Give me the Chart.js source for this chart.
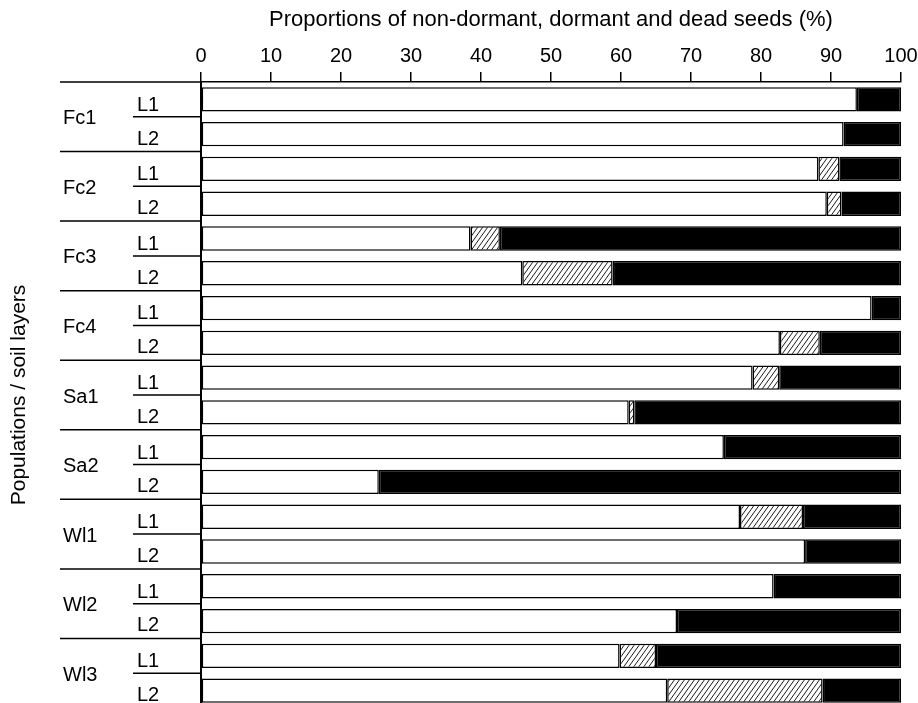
<!DOCTYPE html>
<html>
<head>
<meta charset="utf-8">
<script src="https://cdn.jsdelivr.net/npm/chart.js@4"></script>
<style>
  html, body { margin: 0; padding: 0; background: #fff; overflow: hidden; }
  #chart { display: block; }
</style>
</head>
<body>
<canvas id="chart" width="918" height="710"></canvas>
<script>
// Populations and the two soil layers sampled in each
const populations = ['Fc1', 'Fc2', 'Fc3', 'Fc4', 'Sa1', 'Sa2', 'Wl1', 'Wl2', 'Wl3'];
const layers = ['L1', 'L2'];

// Percentages per row (population x layer, L1 then L2)
const nonDormant = [93.7, 91.8, 88.2, 89.4, 38.5, 45.9, 95.8, 82.7, 78.8, 61.1, 74.7, 25.4, 77.0, 86.3, 81.8, 68.0, 59.8, 66.6];
const dormant    = [0,    0,    3.0,  2.1,  4.2,  12.9, 0,    5.7,  3.8,  0.8,  0,    0,    9.0,  0,    0,    0,    5.2,  22.2];
const dead       = [6.3,  8.2,  8.8,  8.5,  57.3, 41.2, 4.2,  11.6, 17.4, 38.1, 25.3, 74.6, 14.0, 13.7, 18.2, 32.0, 35.0, 11.2];

const xTicks = [0, 10, 20, 30, 40, 50, 60, 70, 80, 90, 100];

const FONT = '"Liberation Sans", Arial, Helvetica, sans-serif';

const rowLabels = [];
populations.forEach(p => layers.forEach(l => rowLabels.push(p + ' ' + l)));

// diagonal hatch for the dormant share
function makeHatch() {
    const w = 5, h = 7;
    const c = document.createElement('canvas');
    c.width = w; c.height = h;
    const g = c.getContext('2d');
    g.fillStyle = '#fff';
    g.fillRect(0, 0, w, h);
    g.strokeStyle = '#000';
    g.lineWidth = 0.9;
    g.beginPath();
    for (let k = -1; k <= 1; k++) {
        g.moveTo(k * w, h);
        g.lineTo(k * w + w, 0);
    }
    g.stroke();
    return g.createPattern(c, 'repeat');
}

// group labels, separator lines and rotated axis title on the left
const leftLabels = {
    id: 'leftLabels',
    afterDraw(chart) {
        const ctx = chart.ctx;
        const y = chart.scales.y;
        const area = chart.chartArea;
        const half = (y.getPixelForValue(1) - y.getPixelForValue(0)) / 2;
        ctx.save();
        ctx.strokeStyle = '#000';
        ctx.lineWidth = 1.5;
        ctx.fillStyle = '#000';
        ctx.font = '20px ' + FONT;
        populations.forEach((p, g) => {
            const r1 = g * 2, r2 = g * 2 + 1;
            const groupTop = y.getPixelForValue(r1) - half;
            const mid = y.getPixelForValue(r1) + half;
            ctx.beginPath();
            ctx.moveTo(60, groupTop);
            ctx.lineTo(area.left, groupTop);
            ctx.moveTo(133, mid);
            ctx.lineTo(area.left, mid);
            ctx.stroke();

            ctx.textAlign = 'left';
            ctx.textBaseline = 'middle';
            ctx.fillText(p, 63, mid + 2);

            ctx.textBaseline = 'alphabetic';
            ctx.fillText(layers[0], 137, mid - 6);
            ctx.fillText(layers[1], 137, y.getPixelForValue(r2) + half - 7);
        });

        ctx.font = '21px ' + FONT;
        ctx.translate(19, (area.top + area.bottom) / 2);
        ctx.rotate(-Math.PI / 2);
        ctx.textAlign = 'center';
        ctx.textBaseline = 'middle';
        ctx.fillText('Populations / soil layers', 0, 0);
        ctx.restore();
    }
};

const barStyle = {
    borderColor: '#000',
    borderWidth: 1.5,
    borderSkipped: false,
    barPercentage: 0.7,
    categoryPercentage: 1
};

new Chart(document.getElementById('chart'), {
    type: 'bar',
    data: {
        labels: rowLabels,
        datasets: [
            Object.assign({ label: 'Non-dormant', data: nonDormant, backgroundColor: '#fff' }, barStyle),
            Object.assign({ label: 'Dormant', data: dormant, backgroundColor: makeHatch() }, barStyle),
            Object.assign({ label: 'Dead', data: dead, backgroundColor: '#000' }, barStyle)
        ]
    },
    options: {
        indexAxis: 'y',
        responsive: false,
        animation: false,
        devicePixelRatio: 1,
        layout: { padding: { left: 0, right: 17, top: 0, bottom: 2 } },
        plugins: {
            legend: { display: false },
            tooltip: { enabled: false }
        },
        scales: {
            x: {
                position: 'top',
                stacked: true,
                min: 0,
                max: 100,
                afterBuildTicks(scale) {
                    scale.ticks = xTicks.map(v => ({ value: v }));
                },
                afterFit(scale) {
                    scale.height = 82;
                    // let the "100" label overhang instead of shrinking the plot
                    scale.paddingLeft = 0;
                    scale.paddingRight = 0;
                },
                ticks: {
                    color: '#000',
                    padding: 4,
                    maxRotation: 0,
                    font: { family: FONT, size: 20 }
                },
                grid: {
                    drawOnChartArea: false,
                    drawTicks: true,
                    tickLength: 10,
                    color: '#000',
                    lineWidth: 1.5
                },
                border: { display: true, color: '#000', width: 1.5 },
                title: {
                    display: true,
                    text: 'Proportions of non-dormant, dormant and dead seeds (%)',
                    color: '#000',
                    font: { family: FONT, size: 22 },
                    padding: { top: 7, bottom: 0 }
                }
            },
            y: {
                stacked: true,
                afterFit(scale) { scale.width = 201; },
                ticks: { display: false },
                grid: { display: false },
                border: { display: true, color: '#000', width: 2 }
            }
        }
    },
    plugins: [leftLabels]
});
</script>
</body>
</html>
